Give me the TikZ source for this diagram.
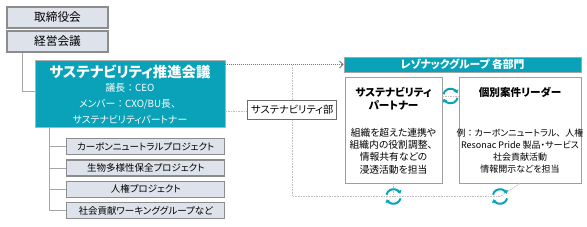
\documentclass[tikz,border=0pt]{standalone}
\usepackage{fontspec}
\setmainfont{Noto Sans CJK JP}[RawFeature={+palt}]
\newcommand\fwp[1]{{\addfontfeature{RawFeature=-palt}#1}}
\usetikzlibrary{arrows.meta}
\definecolor{teal1}{HTML}{0AA2B8}
\definecolor{boxfill}{HTML}{DEE2EA}
\definecolor{boxline}{HTML}{8C8C8C}
\definecolor{lineg}{HTML}{A6A6A6}
\definecolor{dashg}{HTML}{BFBFBF}
\definecolor{dotg}{HTML}{767676}
\pgfdeclarelayer{bg}
\pgfsetlayers{bg,main}
\tikzset{
  graybox/.style={draw=boxline, line width=1.1pt, fill=boxfill, inner sep=0pt,
    minimum width=101pt, minimum height=21pt, font=\fontsize{11.7}{12}\selectfont},
  projbox/.style={draw=boxline, line width=1.1pt, fill=boxfill, inner sep=0pt,
    minimum width=158pt, minimum height=16pt, font=\fontsize{9.5}{10}\selectfont},
  tealbox/.style={draw=gray!60, line width=0.6pt, fill=teal1, inner sep=0pt,
    minimum width=190pt, minimum height=67pt},
  tealtxt/.style={text=white, inner sep=0pt, font=\fontsize{9.8}{11}\selectfont},
  tealtitle/.style={text=white, inner sep=0pt, font=\fontsize{14.4}{15}\selectfont\bfseries},
  headbox/.style={draw=gray!70, line width=0.6pt, fill=teal1, inner sep=0pt, text=white,
    minimum width=237pt, minimum height=15pt, font=\fontsize{10.8}{11}\selectfont\bfseries},
  whitebox/.style={draw=gray!75, line width=0.8pt, fill=white, inner sep=0pt,
    minimum height=106pt},
  sdbox/.style={draw=gray!85!black, line width=0.8pt, fill=white, inner sep=0pt,
    minimum width=89pt, minimum height=19.5pt, font=\fontsize{10.2}{11}\selectfont},
  ttl/.style={inner sep=0pt, align=center, font=\fontsize{10.6}{13}\selectfont\bfseries},
  body/.style={inner sep=0pt, align=center, font=\fontsize{9.8}{12.2}\selectfont},
  treeline/.style={draw=lineg, line width=0.9pt},
  dashline/.style={draw=dashg, line width=0.8pt, dash pattern=on 1.6pt off 1pt},
  dotarrow/.style={draw=dotg, line width=0.9pt, dash pattern=on 1pt off 1pt,
    -{Straight Barb[length=3.5pt,width=7pt]}},
  icon/.style={draw=teal1, line width=2pt, -{Triangle[length=3.2pt,width=5pt]}}
}
\begin{document}
\begin{tikzpicture}[x=1pt,y=-1pt]
\useasboundingbox (0,0) rectangle (587,226);

% left column
\node[graybox] (tb) at (57.5,17.5) {取締役会};
\node[graybox] (km) at (57.5,41.5) {経営会議};
\node[tealbox] (sc) at (130,93.5) {};
\node[tealtitle] (sct) at (130,72) {サステナビリティ推進会議};
\node[tealtxt] (sc1) at (130,88) {議長\fwp{：}CEO};
\node[tealtxt] (sc2) at (130,104) {メンバー\fwp{：}CXO/BU長\fwp{、}};
\node[tealtxt] (sc3) at (130,120) {サステナビリティパートナー};

\node[projbox] (p1) at (145.8,146.7) {カーボンニュートラルプロジェクト};
\node[projbox] (p2) at (145.8,168) {生物多様性保全プロジェクト};
\node[projbox] (p3) at (145.8,189.2) {人権プロジェクト};
\node[projbox] (p4) at (145.8,210.5) {社会貢献ワーキンググループなど};

% right column
\node[headbox] (hd) at (462.5,64.5) {レゾナックグループ 各部門};
\node[whitebox, minimum width=97pt] (bp) at (393.5,130) {};
\node[whitebox, minimum width=122pt] (bl) at (520,130) {};
\node[ttl] (bpt) at (393.5,98.5) {サステナビリティ\\パートナー};
\node[ttl] (blt) at (520,92) {個別案件リーダー};
\node[body] (bpb) at (393.5,151) {組織を超えた連携や\\組織内の役割調整\fwp{、}\\情報共有などの\\浸透活動を担当};
\node[body, font=\fontsize{9}{12.2}\selectfont] (blb) at (520,151) {例\fwp{：}カーボンニュートラル\fwp{、}人権\\Resonac Pride 製品・サービス\\社会貢献活動\\情報開示などを担当};

\node[sdbox] (sd) at (292.2,109.7) {サステナビリティ部};

\coordinate (c0) at (450.5,96);
\coordinate (c1) at (393.5,196.5);
\coordinate (c2) at (500,196.5);

% connectors
\coordinate (kmtap) at ([xshift=16pt]km.south west);
\draw[treeline] (kmtap) |- ([yshift=1.8pt]sc.west);
\coordinate (sctap) at ([xshift=15pt]sc.south west);
\draw[treeline] (sctap) |- (p4.west);
\foreach \p in {p1,p2,p3} \draw[treeline] (sctap |- \p.west) -- (\p.west);

\begin{pgfonlayer}{bg}
\draw[dashline] (sd.center |- hd.west) -- (sd.center |- c1) -- (c2);
\end{pgfonlayer}
\draw[dotarrow] (sc.east |- hd.west) -- (hd.west);
\draw[dashline] ([yshift=-2pt]sc.east |- sd.west) -- ([yshift=-2pt]sd.west);
\draw[dashline] (bp.east |- c0) -- (bl.west |- c0);
\draw[dashline] (bp.south) -- (c1);
\draw[dashline] (bl.south) -- (c2);

\foreach \c in {c0,c1,c2} {
  \draw[icon] ([shift={(165:7.3pt)}]\c) arc[start angle=165, end angle=22, radius=7.3pt];
  \draw[icon] ([shift={(-15:7.3pt)}]\c) arc[start angle=-15, end angle=-158, radius=7.3pt];
}
\end{tikzpicture}
\end{document}
